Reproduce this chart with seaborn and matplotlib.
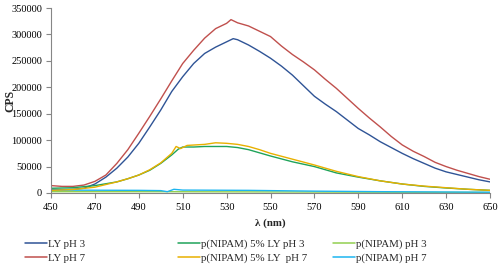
import matplotlib
matplotlib.use("Agg")
import matplotlib.pyplot as plt
import seaborn as sns
import pandas as pd
from matplotlib.lines import Line2D

# ---- data ----
wl_ly3 = [450, 455, 460, 465, 470, 475, 480, 485, 490, 495, 500, 505, 510, 515, 520, 525, 530, 533, 535, 540, 545, 550, 555, 560, 565, 570, 575, 580, 585, 590, 595, 600, 605, 610, 615, 620, 625, 630, 635, 640, 645, 650]
ly_ph3 = [7000, 6500, 7000, 9000, 17000, 30000, 47000, 68000, 94000, 125000, 157000, 192000, 220000, 245000, 264000, 276000, 286000, 292000, 290000, 280000, 268000, 255000, 240000, 223000, 203000, 183000, 168000, 154000, 138000, 122000, 110000, 97000, 86000, 75000, 65000, 56000, 47000, 40000, 35000, 30000, 25000, 21000]

wl_ly7 = [450, 455, 460, 465, 470, 475, 480, 485, 490, 495, 500, 505, 510, 515, 520, 525, 530, 532, 535, 540, 545, 550, 555, 560, 565, 570, 575, 580, 585, 590, 595, 600, 605, 610, 615, 620, 625, 630, 635, 640, 645, 650]
ly_ph7 = [14000, 12500, 12500, 15000, 22000, 34000, 56000, 82000, 113000, 145000, 178000, 212000, 245000, 270000, 293000, 311000, 321000, 328000, 322000, 316000, 306000, 296000, 278000, 262000, 248000, 233000, 215000, 198000, 179000, 160000, 142000, 125000, 107000, 91000, 79000, 69000, 58000, 50000, 43000, 37000, 31000, 26000]

wl_p5_3 = [450, 460, 470, 480, 485, 490, 495, 500, 505, 508, 510, 515, 520, 525, 530, 535, 540, 545, 550, 560, 570, 580, 590, 600, 610, 620, 630, 640, 650]
p5_ph3 = [9000, 10000, 14000, 21000, 27000, 34000, 43000, 56000, 72000, 83000, 87000, 87000, 88000, 88000, 88000, 86000, 82000, 76000, 70000, 59000, 50000, 38000, 30000, 23000, 17000, 12500, 9500, 7000, 5000]

wl_p5_7 = [450, 460, 470, 480, 485, 490, 495, 500, 505, 507, 509, 512, 520, 525, 530, 535, 540, 545, 550, 560, 570, 580, 590, 600, 610, 620, 630, 640, 650]
p5_ph7 = [5000, 6500, 11000, 21000, 27000, 34000, 44000, 57000, 75000, 88000, 84000, 90000, 92000, 95000, 94000, 92000, 88000, 82000, 75000, 64000, 53000, 41000, 31000, 23000, 17000, 13000, 10000, 7000, 5000]

wl_p3 = [450, 500, 550, 600, 650]
p_ph3 = [2500, 2500, 2000, 1500, 1000]

wl_p7 = [450, 490, 500, 503, 506, 510, 540, 570, 600, 650]
p_ph7 = [5500, 5000, 4500, 2500, 7000, 5500, 5000, 3500, 2500, 1500]

names = ["LY pH 3", "LY pH 7", "p(NIPAM) 5% LY pH 3", "p(NIPAM) 5% LY  pH 7",
         "p(NIPAM) pH 3", "p(NIPAM) pH 7"]
colors = ["#2F5496", "#C0504D", "#1FA35A", "#E8B000", "#92D050", "#1CB5F0"]

series = [(wl_ly3, ly_ph3), (wl_ly7, ly_ph7), (wl_p5_3, p5_ph3),
          (wl_p5_7, p5_ph7), (wl_p3, p_ph3), (wl_p7, p_ph7)]

frames = []
for n, (x, y) in zip(names, series):
    frames.append(pd.DataFrame({"wl": x, "cps": y, "series": n}))
df = pd.concat(frames, ignore_index=True)

sns.set_theme(style="white")
plt.rcParams['font.family'] = ['Liberation Serif', 'DejaVu Serif']

fig = plt.figure(figsize=(5, 2.65), dpi=100)
ax = fig.add_axes([0.102, 0.2717, 0.878, 0.6981])

draw_order = ["LY pH 3", "LY pH 7", "p(NIPAM) pH 3", "p(NIPAM) pH 7",
              "p(NIPAM) 5% LY pH 3", "p(NIPAM) 5% LY  pH 7"]
pal = dict(zip(names, colors))
for n in draw_order:
    sns.lineplot(data=df[df["series"] == n], x="wl", y="cps", color=pal[n],
                 lw=1.0, ax=ax, legend=False, estimator=None, sort=False)

FS = 7.5
ax.set_xlim(450, 650)
ax.set_ylim(0, 350000)
ax.set_xticks(range(450, 651, 20))
ax.set_yticks(range(0, 350001, 50000))
ax.set_yticklabels([str(v) for v in range(0, 350001, 50000)])
ax.tick_params(axis='both', labelsize=FS, colors='#868686', labelcolor='black',
               length=3.5, width=0.8, direction='out', bottom=True, left=True)
ax.tick_params(axis='y', pad=3)
ax.tick_params(axis='x', pad=4)
for s in ["top", "right"]:
    ax.spines[s].set_visible(False)
for s in ["left", "bottom"]:
    ax.spines[s].set_color('#868686')
    ax.spines[s].set_linewidth(0.8)
ax.set_xlabel("λ (nm)", fontsize=7.8, fontweight='bold', labelpad=4)
ax.set_ylabel("CPS", fontsize=8.5, fontweight='bold')
ax.yaxis.set_label_coords(-0.08, 0.5)
ax.grid(False)

cols = [(0.05, [0, 1]), (0.356, [2, 3]), (0.666, [4, 5])]
for xpos, idx in cols:
    handles = [Line2D([], [], color=colors[i], lw=1.1) for i in idx]
    labels = [names[i] for i in idx]
    fig.legend(handles, labels, loc='upper left', bbox_to_anchor=(xpos, 0.097),
               frameon=False, fontsize=7.8, handlelength=2.0, handletextpad=0.1,
               labelspacing=0.4, borderaxespad=0, borderpad=0)

fig.savefig("out.png", dpi=100)
